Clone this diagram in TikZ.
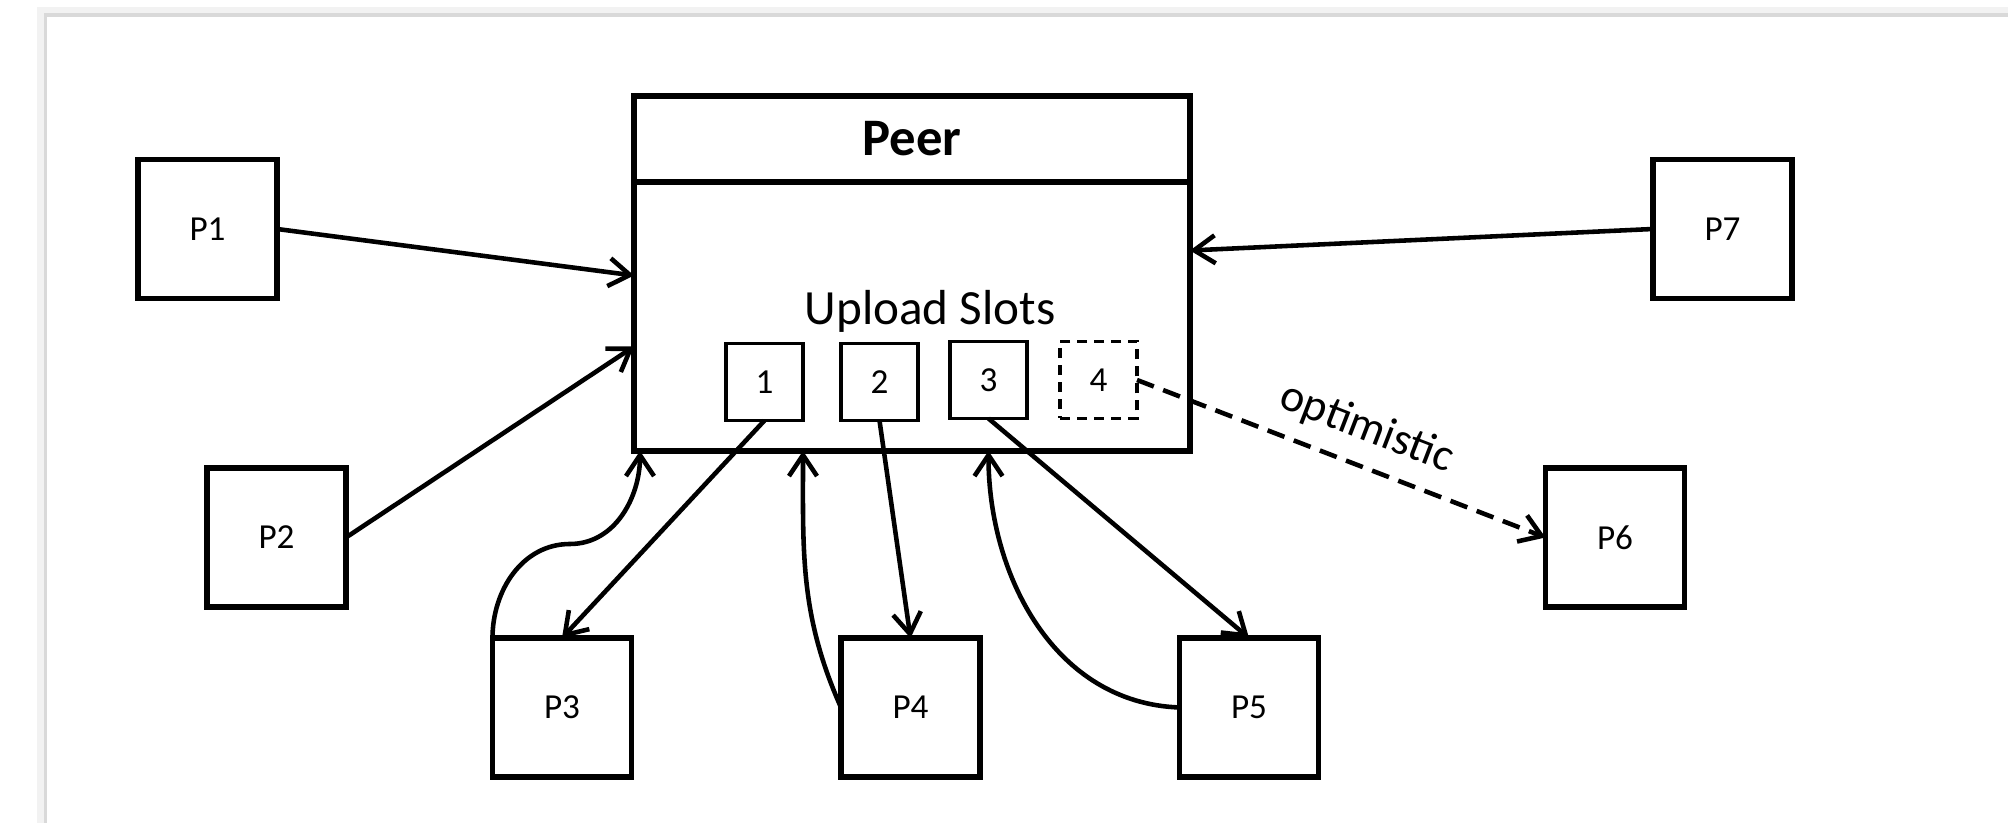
\documentclass[tikz,border=0pt]{standalone}
\usepackage{fontspec}
\setmainfont{Carlito}
\usepackage{tikz}
\usetikzlibrary{calc,positioning,arrows.meta,shapes}
\tikzstyle{arrow}   = [line width=1.3pt,-{Straight Barb[length=2.1mm,width=2.8mm]}]
\tikzstyle{peerbox} = [draw, line width=1.6pt, minimum size=1.39cm, inner sep=0pt, font=\fontsize{10}{12}\selectfont]
\tikzstyle{slotbox} = [draw, line width=0.95pt, minimum size=0.77cm, inner sep=0pt, font=\fontsize{10}{12}\selectfont]
\tikzset{
	every node/.style={inner sep=0pt, outer sep=0pt},
}

\begin{document}
\begin{tikzpicture}
        \useasboundingbox (0,0) rectangle (20.08,8.23);
        \draw[gray!10, line width=3pt] (0.42,0) |- (20.08,8.11);
        \draw[gray!30, line width=1pt] (0.455,0) |- (20.08,8.08);

        \node[draw, line width=1.6pt, minimum width=5.56cm, minimum height=0.86cm, font=\fontsize{15}{18}\selectfont\bfseries] (head) at (9.12,6.84) {Peer};
        \node[draw, line width=1.6pt, minimum width=5.56cm, minimum height=2.69cm, anchor=north] (body) at (head.south) {};
        \node[anchor=base, font=\fontsize{14}{17}\selectfont] (slots) at (9.30,4.98) {Upload Slots};

        \node[slotbox] (slot1) at (7.645,4.41) {1};
        \node[slotbox] (slot2) at (8.795,4.41) {2};
        \node[slotbox] (slot3) at (9.885,4.43) {3};
        \node[slotbox, dash pattern=on 1mm off 0.7mm] (slot4) at (10.985,4.43) {4};

        \node[peerbox] (P1) at (2.075,5.94) {P1};
        \node[peerbox] (P2) at (2.765,2.855) {P2};
        \node[peerbox] (P3) at (5.62,1.155) {P3};
        \node[peerbox] (P4) at (9.105,1.155) {P4};
        \node[peerbox] (P5) at (12.49,1.155) {P5};
        \node[peerbox] (P6) at (16.15,2.855) {P6};
        \node[peerbox] (P7) at (17.225,5.94) {P7};

        \draw[arrow] (P1.east) -- ([yshift=4.1mm]body.west);
        \draw[arrow] (P2.east) -- ([yshift=-3mm]body.west);
        \draw[arrow] (P7.west) -- ([yshift=6.6mm]body.east);

        \draw[arrow] (P3.north west) to[out=90,in=180] (5.7,2.79) to[out=0,in=-90] ([xshift=0.6mm]body.south west);
        \draw[arrow] (P4.west) to[out=114,in=-90] (slot1.east |- body.south);
        \draw[arrow] (P5.west) to[out=178,in=-90] (slot3.south |- body.south);

        \draw[arrow] (slot1.south) -- (P3.north);
        \draw[arrow] (slot2.south) -- (P4.north);
        \draw[arrow] (slot3.south) -- (P5.north);
        \draw[arrow, dash pattern=on 1.8mm off 1mm] (slot4.east) -- (P6.west)
            node[pos=0.53, sloped, above=1.8mm, font=\fontsize{13}{16}\selectfont] {optimistic};
\end{tikzpicture}
\end{document}
